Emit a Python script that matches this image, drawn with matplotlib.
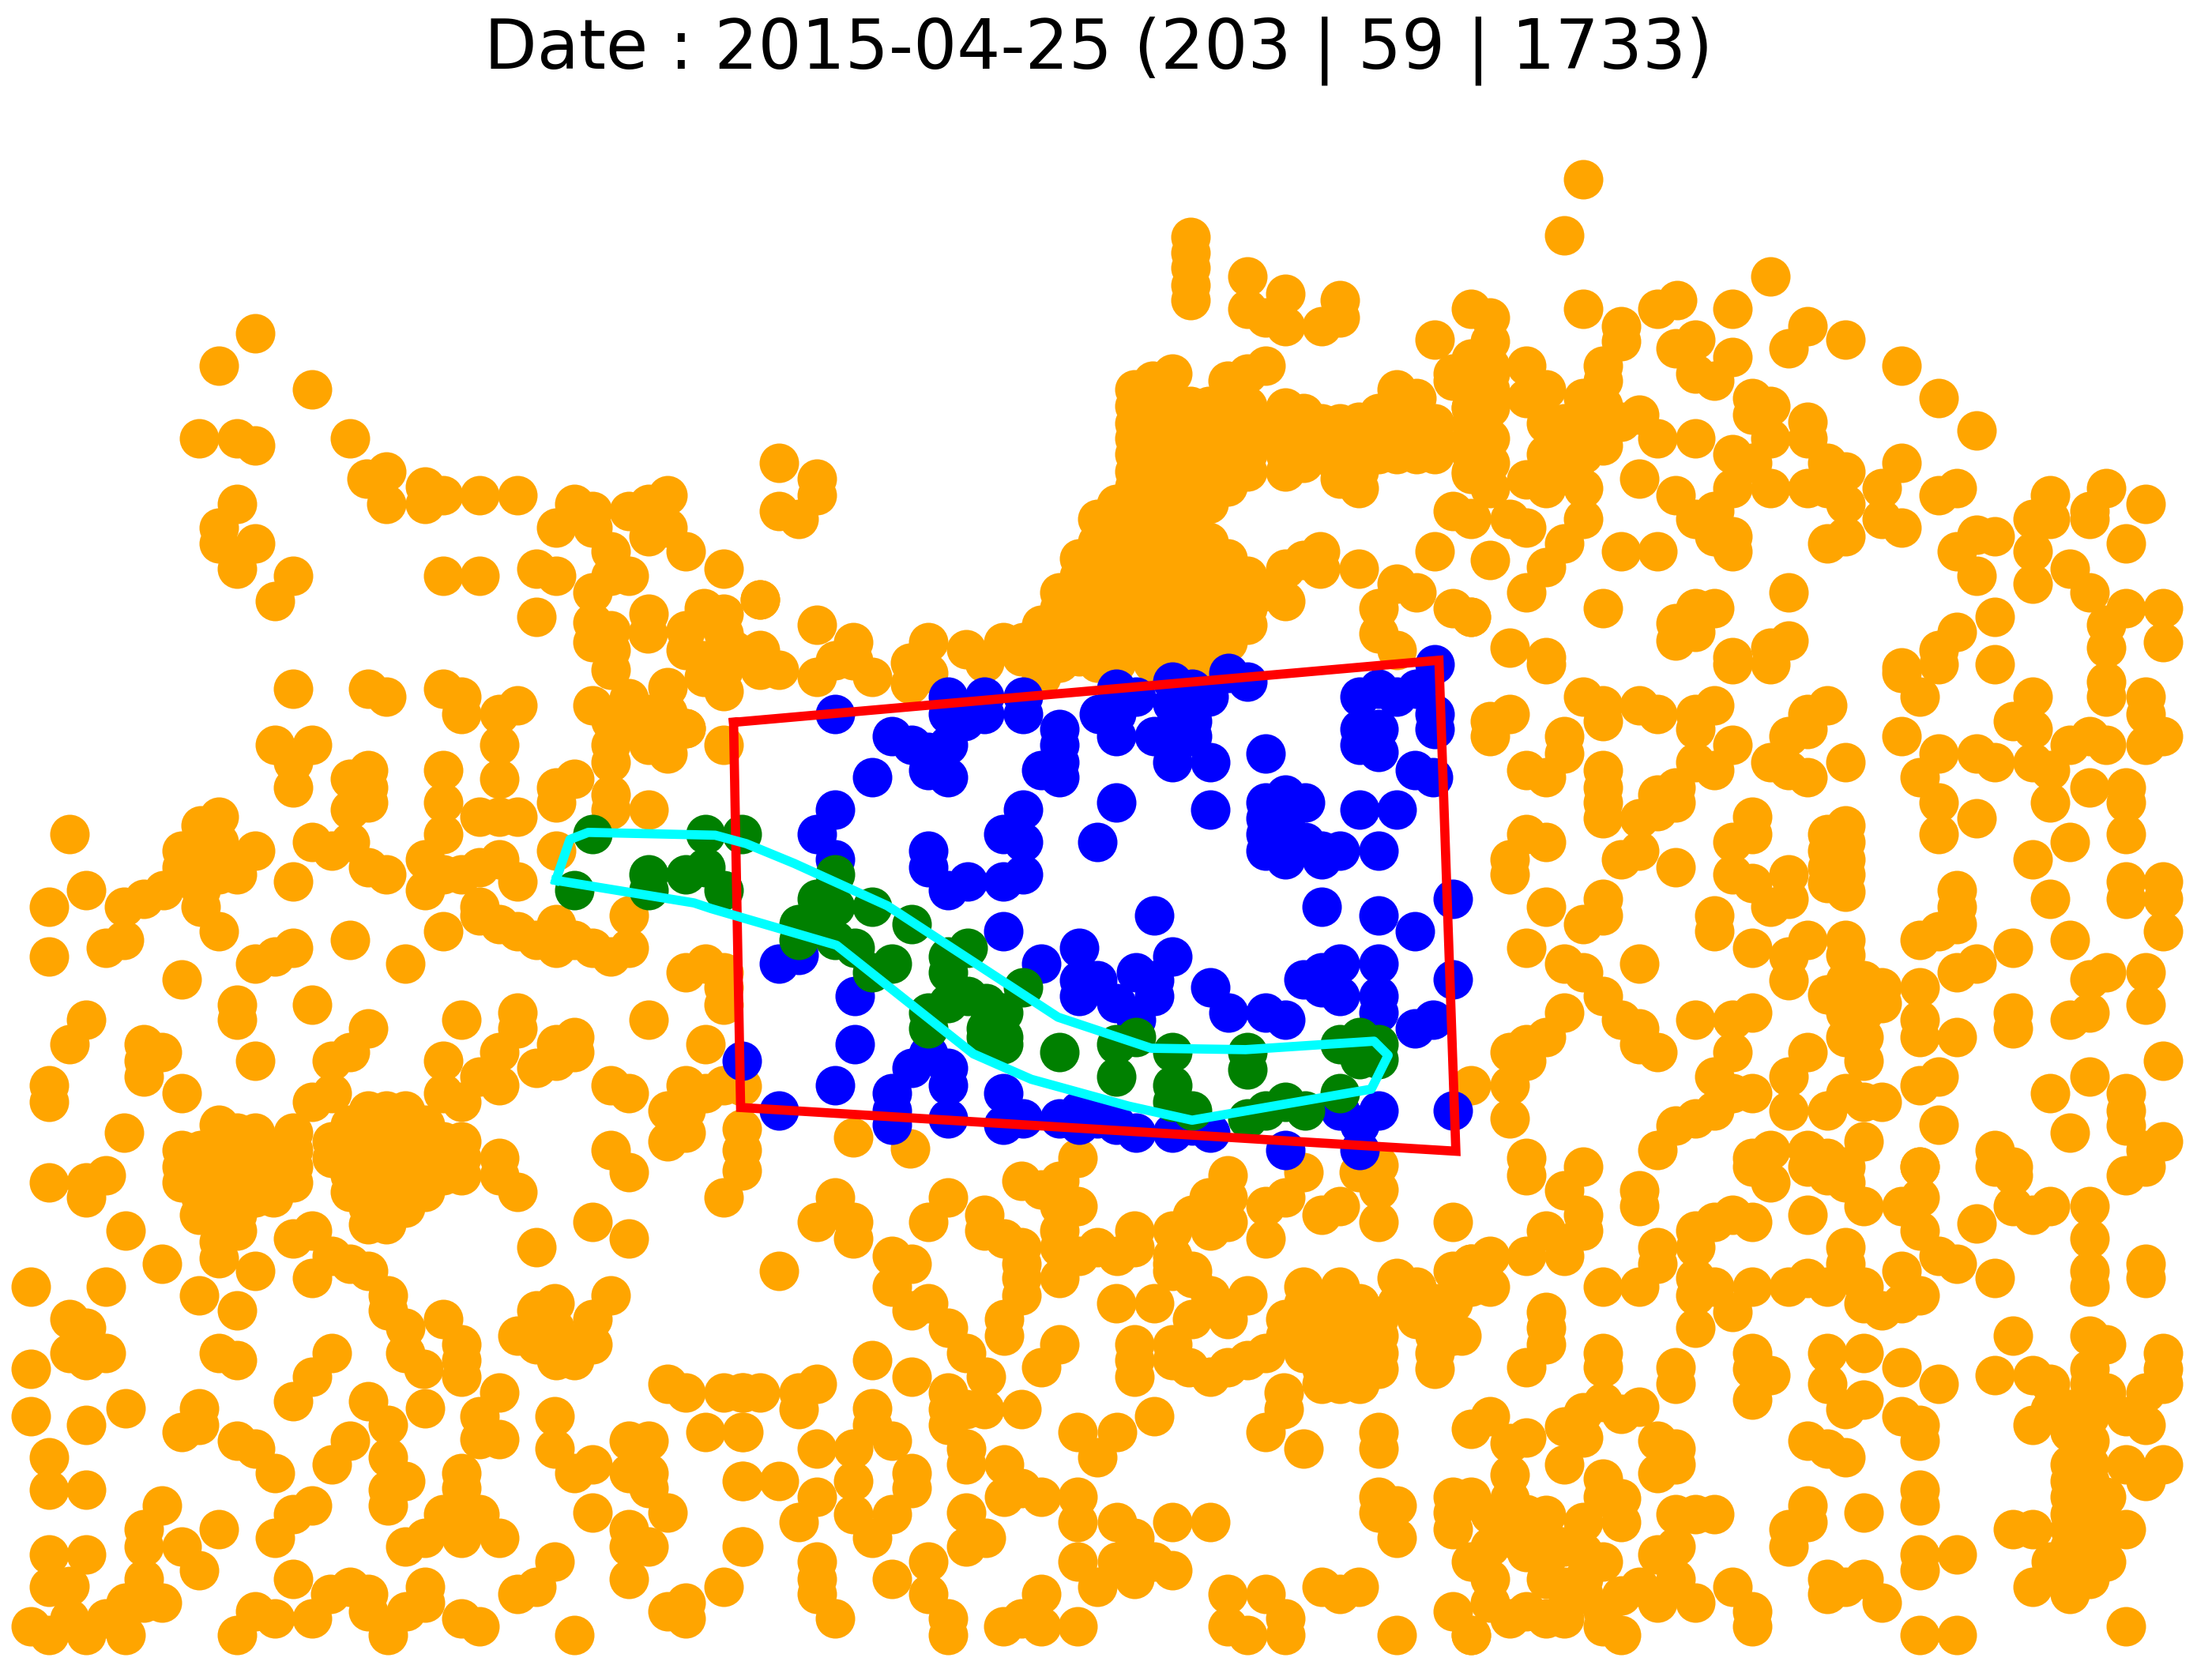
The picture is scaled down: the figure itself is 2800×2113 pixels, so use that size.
import matplotlib
matplotlib.use("Agg")
import matplotlib.pyplot as plt

title = "Date : 2015-04-25 (203 | 59 | 1733)"

orange_top_left = [(181,236),(155,259),(221,276),(141,311),(168,311),(181,316),(248,311),(274,334),(260,339),(274,357),(301,345),(301,357),(314,351),(340,351),(367,351),(407,357),(420,362),(394,374),(420,374),(446,362),(460,357),(473,351),(460,380),(473,374),(433,391),(446,408),(433,408),(486,391),(513,403),(380,403),(394,408),(420,420),(380,437),(420,455),(433,461),(433,475),(459,449),(486,461),(499,431),(513,449),(539,425),(539,461),(552,475),(579,443),(605,455),(592,468),(579,480),(539,475),(513,475),(499,468),(473,487),(446,495),(168,357),(155,374),(155,385),(181,385),(168,403),(208,408),(195,426),(314,408),(340,408),(552,328),(579,339),(579,351),(552,362),(566,368),(420,441),(433,447),(460,435),(486,447),(513,435),(473,505),(460,520),(486,516),(513,490),(499,480),(520,461),(605,468),(645,470),(658,455),(685,460),(711,455),(658,477),(618,480),(645,485),(751,470),(765,465),(738,480),(778,470),(791,470),(817,470),(831,470),(857,470),(698,470),(724,465)]

orange_mid_left = [(208,488),(261,488),(274,494),(314,488),(327,494),(327,506),(354,506),(367,500),(354,528),(354,552),(420,500),(433,511),(446,511),(460,506),(433,528),(433,540),(433,563),(433,574),(460,528),(473,534),(486,516),(513,528),(460,574),(195,528),(221,528),(208,540),(208,558),(248,552),(261,546),(261,558),(248,574),(261,569),(314,546),(314,569),(314,591),(340,579),(354,579),(367,579),(394,558),(394,569),(407,552),(49,591),(155,579),(142,585),(129,603),(142,603),(155,597),(181,603),(129,615),(142,615),(155,609),(168,620),(155,620),(142,631),(142,643),(155,660),(116,631),(102,637),(88,643),(88,666),(75,672),(61,631),(35,643),(35,678),(221,597),(235,603),(248,597),(261,615),(274,620),(208,625),(301,609),(301,631),(314,620),(327,620),(340,615),(354,609),(340,643),(340,649),(354,655),(367,660),(380,666),(394,672),(367,625),(394,603),(394,655),(407,666),(420,672),(433,678),(446,672),(446,649),(314,660),(248,666),(287,683),(208,672),(195,678),(181,683),(129,694),(168,712),(168,723),(221,712),(61,723),(49,740),(261,729),(248,746),(235,752),(327,723),(367,718),(367,729),(354,746),(354,769),(340,763),(380,757),(394,752),(407,746),(407,735),(394,740),(314,752),(314,775),(327,781),(433,769),(446,775),(460,723),(500,740),(486,689),(500,683),(513,689),(513,712),(513,700),(102,740),(115,746),(102,752),(102,763),(129,775),(181,752),(35,769),(35,781),(88,803),(155,797),(221,781),(235,775),(486,769),(513,769),(473,787),(500,775),(486,787),(473,809),(486,803),(433,815),(446,831),(526,770),(526,800),(526,815),(526,830),(513,849)]

orange_low_left = [(35,838),(61,849),(61,838),(75,833),(89,872),(115,896),(22,912),(75,912),(49,935),(61,941),(49,959),(61,964),(75,959),(22,970),(22,1004),(61,1010),(89,998),(35,1033),(35,1056),(61,1056),(141,918),(168,929),(181,901),(155,892),(155,880),(141,861),(168,872),(208,878),(221,872),(221,906),(235,890),(248,896),(261,901),(275,918),(275,929),(287,941),(287,959),(314,935),(327,953),(327,964),(327,976),(300,970),(301,998),(354,987),(340,1004),(340,1020),(354,1020),(327,1044),(327,1055),(314,1073),(340,1073),(327,1090),(301,1090),(287,1096),(354,1090),(380,884),(420,866),(446,878),(433,918),(393,924),(380,929),(367,947),(380,953),(394,964),(407,964),(407,953),(420,935),(420,953),(393,941),(155,959),(168,964),(235,959),(221,976),(208,993),(141,998),(141,1010),(129,1015),(168,1021),(181,1027),(195,1044),(248,1021),(235,1038),(261,993),(275,1010),(275,1033),(287,1050),(275,1056),(275,1067),(115,1067),(102,1084),(102,1096),(129,1096),(141,1113),(155,1084),(221,1067),(208,1073),(195,1090),(35,1102),(61,1102),(49,1124),(35,1125),(102,1119),(89,1136),(115,1136),(102,1136),(22,1153),(35,1159),(61,1159),(89,1159),(49,1147),(75,1147),(208,1119),(181,1142),(195,1147),(168,1159),(221,1147),(234,1130),(248,1125),(261,1130),(261,1142),(275,1159),(288,1142),(301,1136),(301,1125),(327,1147),(340,1153),(367,1130),(380,1125),(393,1107),(407,1159),(393,1004),(393,1027),(407,1044),(420,1038),(420,1072),(446,1021),(460,1021),(446,1044),(460,1044),(460,1055),(473,1072),(446,1084),(460,1096),(446,1096),(446,1119),(473,981),(486,987),(513,987),(527,987),(500,1015),(527,1015),(527,1050),(527,1096),(513,1125),(473,1142),(486,1136),(486,1147)]

orange_low_centre = [(592,849),(579,866),(605,866),(605,878),(552,901),(672,849),(658,866),(698,861),(698,872),(712,878),(724,884),(724,896),(724,906),(724,918),(712,935),(712,947),(751,906),(751,872),(751,855),(764,855),(751,837),(738,843),(724,837),(764,821),(751,884),(765,890),(778,884),(792,890),(804,872),(804,884),(831,872),(831,890),(845,901),(831,901),(858,872),(870,866),(870,833),(857,849),(870,849),(845,861),(897,878),(897,855),(911,849),(924,831),(937,861),(950,855),(963,831),(977,866),(977,843),(977,826),(1030,866),(632,890),(646,896),(632,912),(658,924),(646,929),(672,941),(685,959),(699,976),(751,953),(738,969),(618,964),(646,976),(579,981),(566,987),(566,999),(539,987),(526,987),(526,1015),(526,1050),(552,1050),(618,998),(618,1010),(579,1027),(605,1027),(632,1021),(646,1044),(646,1055),(632,1073),(605,1050),(605,1073),(579,1061),(566,1079),(526,1096),(618,1090),(658,1107),(579,1107),(579,1119),(579,1130),(592,1147),(632,1119),(658,1130),(672,1147),(672,1159),(672,987),(672,999),(672,1010),(685,999),(698,999),(724,999),(685,1027),(685,1038),(712,1038),(712,1061),(724,1055),(738,1061),(764,1015),(792,1015),(778,1033),(818,1004),(764,1061),(764,1079),(764,1107),(778,1125),(792,1079),(804,1090),(792,1107),(804,1119),(818,1107),(831,1113),(831,1079),(858,1079),(685,1072),(685,1096),(699,1090),(738,1130),(711,1153),(724,1147),(738,1153),(764,1153),(870,1130),(897,1130),(870,1153),(884,1159),(911,1147),(911,1159),(937,1125),(950,1130),(963,1125),(990,1159),(977,1015),(977,1027),(977,1061),(990,1067),(977,1072),(990,1090),(1030,1061),(1030,1072),(1030,1084),(1043,1061),(1043,1107),(1030,1142),(1043,1159),(897,1015),(924,1027),(910,987),(910,999),(924,912),(950,912),(990,906),(1004,912),(1030,901),(1043,896),(1043,912),(804,964),(804,976),(804,953),(791,924),(818,924),(845,935),(831,953),(831,964),(843,969),(858,976),(870,969),(884,964),(897,959),(870,935),(884,918),(858,918),(831,896),(845,906),(605,806),(645,814)]

orange_dense_rows = [(924,[924,937,950,964,990,1004,1017,1030]),(935,[911,924,937,950,964,977,1004,1017]),(947,[911,937,950,964,977,1017,1030]),(959,[924,937,950,964,977,1017]),(970,[937,950,964,977,1017]),(981,[937,950,964]),
(803,[168,181,208]),(815,[129,142,155,168,181,194,208]),(827,[129,142,155,168,181,194,208]),(838,[129,142,155,168,181,194,208]),(849,[142,155,168,181,194]),(861,[155,168]),
(787,[261,274,287]),(797,[248,261,274,287,301]),(809,[235,248,261,274,287,301,314,327]),(821,[235,248,261,274,287,301,314,327,354]),(833,[248,261,274,287,301,314,327,354]),(845,[248,261,274,287,301,367]),(856,[261,274,287]),(868,[261,274]),
(288,[804,817,831,844,857,870,884]),(300,[804,817,831,844,857,870,884,897]),(311,[804,817,831,844,857,870,884]),(322,[804,817,831,844,857,870,884]),(334,[804,817,831,844,857,870,884]),(345,[804,817,831,844,857,870]),(357,[791,804,817,831,844,857]),(368,[778,791,804,817,844]),(384,[778,791,804,817,831,844,857]),(396,[765,778,791,804,817,831,844,857,870]),(408,[765,778,791,804,817,831,844,857,870,884]),(420,[751,765,778,791,804,817,831,844,857,870,884]),(431,[751,765,778,791,804,817,831,844,857,870,884]),(443,[738,751,765,778,791,804,817,831,844,857,870,884]),(455,[725,738,751,765,778,791,804,817,831,844,857,870]),
(300,[911,924,937,950,963,977,990,1004,1017,1043]),(311,[911,924,937,950,963,977,990,1004,1017,1043]),(322,[911,937,950,963,977,990,1004,1043]),(334,[950,963,1043]),(289,[1043,1056]),(276,[1043,1056]),(265,[1030,1043,1056])]

orange_top_centre = [(844,168),(844,179),(844,190),(844,202),(844,213),(884,196),(884,219),(897,225),(911,208),(911,231),(937,231),(950,213),(950,225),(1017,241),(1043,219),(1043,254),(804,276),(817,270),(831,265),(870,270),(884,265),(897,259),(897,311),(911,289),(924,293),(911,334),(924,328),(911,311),(950,306),(963,299),(977,293),(990,276),(1004,282),(1030,270),(950,339),(963,346),(990,315),(1004,320),(1017,322),(963,320),(936,311),(1030,362),(1043,367),(1043,336),(1043,313),(1043,289),(1017,391),(963,403),(936,391),(924,397),(911,403),(911,426),(936,403),(894,420),(990,414),(1004,420),(977,431),(977,449),(990,461),(1030,431),(1043,437),(539,425)]

orange_top_right = [(1122,127),(1109,167),(1255,196),(1122,219),(1175,219),(1189,213),(1228,219),(1281,231),(1268,247),(1308,241),(1348,259),(1374,282),(1401,305),(1056,225),(1056,242),(1056,259),(1082,259),(1149,231),(1149,242),(1136,259),(1136,270),(1188,247),(1202,241),(1228,253),(1202,265),(1215,270),(1242,282),(1255,288),(1242,294),(1255,311),(1281,299),(1281,311),(1228,322),(1242,328),(1228,346),(1215,362),(1202,368),(1215,380),(1228,380),(1228,391),(1188,351),(1162,294),(1149,299),(1122,282),(1096,276),(1082,282),(1136,287),(1109,311),(1122,311),(1136,316),(1175,311),(1202,311),(1162,339),(1122,346),(1096,346),(1082,340),(1056,346),(1056,311),(1056,328),(1056,287),(1122,368),(1109,385),(1096,402),(1082,420),(1070,368),(1082,374),(1043,368),(1149,391),(1175,391),(1056,397),(1136,431),(1043,437),(1281,346),(1295,328),(1308,334),(1308,357),(1348,328),(1334,346),(1334,368),(1348,374),(1295,385),(1308,380),(1374,351),(1387,346),(1387,391),(1401,379),(1414,380),(1441,368),(1453,351),(1441,391),(1401,408),(1453,368),(1481,368),(1493,346),(1521,357),(1467,403),(1481,362),(1507,385),(1441,414),(1481,420),(1507,431),(1533,431),(1493,443),(1533,455),(1493,459),(1414,437),(1387,448),(1374,461),(1268,420),(1268,454),(1255,459),(1228,466),(1188,442),(1202,431),(1215,431),(1188,454),(1202,448),(1096,466),(1070,459),(1348,473),(1096,300),(1109,300),(1122,300),(1122,322),(1096,322),(1109,334),(1255,346),(1295,346)]

orange_mid_right = [(1056,511),(1070,506),(1056,522),(1082,546),(1096,551),(1109,522),(1109,534),(1122,494),(1136,500),(1136,511),(1162,500),(1175,506),(1202,506),(1215,500),(1202,517),(1228,528),(1202,540),(1215,546),(1188,558),(1175,563),(1188,569),(1136,546),(1136,558),(1136,569),(1136,580),(1162,580),(1175,575),(1162,603),(1149,609),(1188,615),(1082,591),(1096,597),(1070,609),(1070,620),(1096,471),(1228,471),(1255,471),(1295,500),(1281,506),(1268,522),(1281,517),(1255,540),(1268,546),(1281,551),(1308,540),(1348,477),(1374,471),(1361,494),(1414,471),(1441,494),(1427,511),(1441,517),(1348,522),(1374,534),(1361,551),(1401,534),(1414,540),(1441,540),(1453,546),(1467,528),(1481,522),(1493,528),(1481,558),(1453,569),(1507,558),(1507,569),(1507,591),(1493,483),(1493,494),(1521,494),(1521,506),(1533,522),(1521,528),(1374,569),(1374,591),(1401,580),(1441,609),(1467,597),(1308,585),(1295,591),(1308,597),(1295,603),(1308,609),(1295,615),(1308,620),(1295,626),(1308,632),(1242,579),(1228,597),(1242,591),(1228,620),(1242,626),(1255,643),(1268,620),(1268,637),(1215,649),(1215,660),(1242,672),(1268,678),(1281,666),(1268,695),(1308,666),(1308,677),(1295,705),(1308,695),(1321,695),(1334,700),(1308,718),(1334,711),(1321,718),(1321,735),(1308,735),(1321,752),(1361,666),(1387,631),(1387,643),(1387,655),(1374,660),(1387,689),(1401,683),(1427,672),(1467,666),(1453,637),(1507,625),(1533,625),(1507,637),(1533,637),(1533,660),(1493,689),(1481,694),(1521,689),(1521,712),(1481,718),(1467,723),(1427,718),(1427,729),(1387,735),(1361,700),(1361,723),(1361,735),(1533,752),(1481,763),(1453,775),(1467,803),(1507,775),(1507,787),(1533,809),(1507,798),(1521,815),(1361,769),(1374,763),(1374,797),(1361,827),(1414,815),(1427,827),(1096,643),(1136,637),(1136,649),(1122,655),(1082,672),(1109,683),(1122,689),(1136,706),(1149,723),(1162,729),(1162,740),(1175,746),(1162,683),(1109,718),(1096,735),(1082,740),(1070,746),(1082,752),(1070,769),(1043,769),(1070,793),(1082,821),(1122,827),(1202,723),(1228,723),(1242,718),(1228,746),(1215,763),(1242,775),(1228,775),(1202,793),(1188,798),(1215,787),(1175,815),(1268,787),(1268,763),(1281,746),(1295,787),(1308,775),(1321,781),(1334,781),(1321,809),(1242,821),(1255,815),(1281,815),(1295,821),(1308,827)]

orange_low_right = [(1082,833),(1162,844),(1162,855),(1109,844),(1122,861),(1122,872),(1096,872),(1082,890),(1056,890),(1056,912),(1043,896),(1109,890),(1136,912),(1162,912),(1175,884),(1175,896),(1202,872),(1215,866),(1228,861),(1242,866),(1202,884),(1202,906),(1215,912),(1202,918),(1202,941),(1228,930),(1242,912),(1268,912),(1281,906),(1295,912),(1308,884),(1308,896),(1321,912),(1321,924),(1334,929),(1348,901),(1361,918),(1348,924),(1242,827),(1255,838),(1281,861),(1281,827),(1295,833),(1308,838),(1321,855),(1348,855),(1361,827),(1361,849),(1361,872),(1374,890),(1387,896),(1401,867),(1414,906),(1427,855),(1441,861),(1453,855),(1481,855),(1481,878),(1481,901),(1481,912),(1521,896),(1521,906),(1414,827),(1427,833),(1507,833),(1521,827),(1096,930),(1096,941),(1096,953),(1082,969),(1136,959),(1136,969),(1188,969),(1188,981),(1036,947),(1242,959),(1242,970),(1255,975),(1242,992),(1295,959),(1321,959),(1295,981),(1321,992),(1308,999),(1348,969),(1374,981),(1348,1004),(1361,1010),(1361,1021),(1281,1021),(1295,1027),(1308,1033),(1414,975),(1427,947),(1441,975),(1453,981),(1481,947),(1493,953),(1533,959),(1533,970),(1533,981),(1481,970),(1481,981),(1493,987),(1521,987),(1507,1004),(1521,1010),(1441,1010),(1453,999),(1481,1004),(1467,999),(1481,1021),(1467,1038),(1481,1038),(1507,1038),(1533,1038),(1521,1050),(1467,1061),(1481,1061),(1493,1061),(1467,1084),(1481,1084),(1507,1084),(1467,1107),(1481,1107),(1493,1107),(1467,1130),(1441,1084),(1427,1084),(1441,1125),(1507,1153),(1361,1056),(1361,1067),(1321,1072),(1281,1067),(1268,1084),(1281,1079),(1268,1096),(1361,1102),(1361,1113),(1387,1102),(1295,1119),(1295,1130),(1308,1125),(1321,1119),(1334,1136),(1361,1159),(1387,1159),(1228,1125),(1242,1142),(1242,1153),(1202,1136),(1188,1119),(1188,1096),(1175,1102),(1188,1073),(1202,1073),(1215,1073),(1175,1044),(1188,1027),(1188,1038),(1175,1021),(1149,1002),(1136,994),(1162,997),(1122,1001),(1109,1011),(1109,1038),(1122,1019),(1082,1019),(1070,1023),(1056,1004),(1043,1013),(1070,1045),(1136,1048),(1149,1062),(1149,1079),(1122,1079),(1136,1061),(1096,1074),(1082,1073),(1070,1062),(1056,1073),(1043,1062),(1056,1096),(1070,1090),(1096,1090),(1109,1096),(1136,1107),(1096,1119),(1109,1125),(1122,1119),(1056,1119),(1056,1136),(1070,1147),(1096,1147),(1043,1159),(1082,1142),(1136,1142),(1136,1153),(1149,1159),(1162,1125),(1175,1136),(1149,1131),(1122,1100),(1082,1100),(1096,1105),(1122,1130),(1109,1147),(1467,1015),(1467,1050),(1481,1050),(1467,1073),(1493,1084),(1467,1096),(1481,1096),(1467,1119),(1481,1119),(1454,1107)]

blue_points = [(592,506),(672,494),(672,506),(698,494),(698,506),(725,494),(725,506),(684,511),(632,522),(646,528),(672,528),(658,533),(658,546),(672,551),(618,551),(751,517),(751,528),(751,540),(738,546),(751,551),(791,488),(779,506),(805,494),(791,506),(791,522),(831,483),(845,488),(831,499),(857,494),(871,477),(884,483),(818,522),(845,511),(831,517),(845,522),(831,540),(858,540),(897,534),(964,494),(977,488),(990,494),(1004,488),(1017,471),(1017,506),(1017,517),(964,517),(977,517),(964,528),(977,533),(1003,546),(1016,551),(592,574),(579,591),(592,609),(658,603),(658,615),(672,631),(686,625),(711,625),(725,620),(711,591),(725,597),(725,574),(778,597),(791,569),(858,574),(897,569),(911,563),(925,569),(897,591),(897,603),(911,580),(911,609),(925,597),(937,603),(950,603),(897,580),(937,609),(911,597),(964,574),(990,574),(977,603),(1030,637),(937,643),(977,649),(1003,660),(818,649),(711,660),(552,683),(566,677),(606,706),(606,740),(738,683),(765,672),(765,695),(765,706),(778,695),(791,711),(805,689),(831,678),(818,695),(818,706),(805,723),(858,700),(871,718),(897,718),(911,723),(924,694),(937,689),(950,683),(950,706),(977,683),(977,706),(977,718),(937,700),(1030,694),(1003,729),(1016,723),(526,752),(592,769),(552,787),(646,757),(672,757),(632,775),(632,787),(632,797),(672,769),(672,793),(658,747),(711,775),(725,793),(711,797),(751,793),(765,787),(778,793),(765,797),(791,797),(805,803),(831,803),(858,803),(845,798),(911,815),(964,815),(964,797),(950,787),(977,787),(1030,787)]

green_points = [(420,591),(500,591),(526,591),(460,620),(460,631),(486,620),(500,615),(513,631),(407,631),(592,620),(579,637),(618,643),(646,655),(566,655),(579,649),(592,643),(566,666),(606,672),(592,666),(618,689),(632,683),(686,672),(672,678),(672,689),(686,706),(672,711),(658,718),(658,729),(699,711),(711,718),(725,700),(711,735),(699,729),(711,740),(699,735),(751,746),(791,740),(805,735),(791,763),(831,746),(831,769),(831,781),(845,787),(884,746),(884,758),(884,793),(897,787),(911,781),(925,787),(950,775),(950,740),(964,735),(977,740),(977,751),(964,751)]

red_x = [520, 1020, 1032, 525, 520]
red_y = [512, 468, 816, 785, 512]
cyan_x = [394, 404, 417, 507, 529, 563, 629, 750, 816, 883, 974, 984, 972, 845, 800, 731, 690, 593, 504, 492, 394]
cyan_y = [624, 595, 590, 592, 598, 612, 642, 721, 743, 744, 738, 748, 772, 794, 784, 765, 747, 670, 644, 640, 624]

orange_points = (orange_top_left + orange_mid_left + orange_low_left + orange_low_centre
                 + orange_top_centre + orange_top_right + orange_mid_right + orange_low_right)
for row_y, row_xs in orange_dense_rows:
    orange_points = orange_points + [(vx, row_y) for vx in row_xs]

fig = plt.figure(figsize=(14, 10.565), dpi=200)
ax = fig.add_axes([0, 0, 1, (1183 - 70) / 1183])
ax.set_xlim(0, 1568)
ax.set_ylim(1183, 70)
ax.axis("off")

size = 18.0 ** 2
for pts, col, z in ((orange_points, "orange", 1), (blue_points, "blue", 2), (green_points, "green", 3)):
    ax.scatter([p[0] for p in pts], [p[1] for p in pts], s=size, c=col, linewidths=0, zorder=z)
ax.plot(red_x, red_y, color="red", lw=4.2, zorder=4, solid_joinstyle="miter")
ax.plot(cyan_x, cyan_y, color="cyan", lw=4.2, zorder=5)
ax.set_title(title, fontsize=31.2, pad=14, color="black", x=0.4965)

fig.savefig("out.png", dpi=200)
